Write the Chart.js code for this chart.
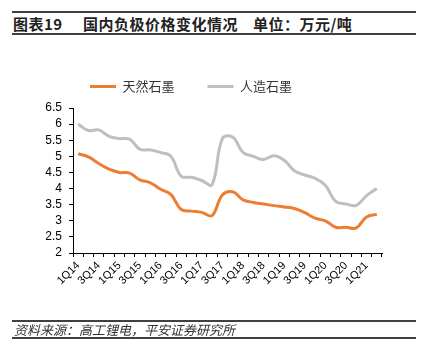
<!DOCTYPE html>
<html>
<head>
<meta charset="utf-8">
<script src="https://cdn.jsdelivr.net/npm/chart.js@4/dist/chart.umd.min.js"></script>
<style>
  body { margin: 0; background: #fff; }
  #wrap { position: relative; width: 425px; height: 364px; overflow: hidden; }
  #chart { position: absolute; left: 0; top: 0; }
  .rule { position: absolute; left: 12px; width: 404px; height: 2px; background: #404040; }
  .title { position: absolute; top: 14px; font: bold 15px "Noto Sans CJK SC", sans-serif; color: #222; letter-spacing: 0.5px; white-space: pre; line-height: 20px; }
  #source { position: absolute; left: 14px; top: 321px; font: italic 13px "Noto Sans CJK SC", sans-serif; color: #333; white-space: pre; line-height: 17px; }
</style>
</head>
<body>
<div id="wrap">
  <div class="rule" style="top:11px"></div>
  <div class="title" style="left:13px">图表19</div>
  <div class="title" style="left:83px">国内负极价格变化情况</div>
  <div class="title" style="left:253px">单位：万元/吨</div>
  <div class="rule" style="top:33px"></div>
  <canvas id="chart" width="425" height="364"></canvas>
  <div class="rule" style="top:320px"></div>
  <div id="source">资料来源：高工锂电，平安证券研究所</div>
  <div class="rule" style="top:337px"></div>
</div>
<script>
// quarters 1Q14 - 2Q21
const quarters = ["1Q14", "2Q14", "3Q14", "4Q14", "1Q15", "2Q15", "3Q15", "4Q15",
  "1Q16", "2Q16", "3Q16", "4Q16", "1Q17", "2Q17", "3Q17", "4Q17",
  "1Q18", "2Q18", "3Q18", "4Q18", "1Q19", "2Q19", "3Q19", "4Q19",
  "1Q20", "2Q20", "3Q20", "4Q20", "1Q21", "2Q21"]

// 天然石墨 (万元/吨)
const naturalGraphite = [5.08, 4.98, 4.78, 4.6, 4.5, 4.48, 4.27, 4.18,
  3.98, 3.82, 3.35, 3.3, 3.26, 3.16, 3.8, 3.9,
  3.65, 3.57, 3.52, 3.47, 3.43, 3.38, 3.25, 3.08,
  3.0, 2.8, 2.8, 2.78, 3.12, 3.2]

// 人造石墨 (万元/吨)
const artificialGraphite = [6.0, 5.8, 5.82, 5.62, 5.55, 5.53, 5.22, 5.2,
  5.12, 5.0, 4.38, 4.35, 4.25, 4.12, 5.55, 5.6,
  5.12, 5.0, 4.9, 5.02, 4.88, 4.55, 4.42, 4.32,
  4.1, 3.6, 3.52, 3.48, 3.78, 4.0]

const yMin = 2
const yMax = 6.5
const yStep = 0.5

// extra space under the legend
const legendMargin = {
  id: "legendMargin",
  beforeInit(chart) {
    const fit = chart.legend.fit
    chart.legend.fit = function () {
      fit.call(this)
      this.height += 5
    }
  },
}

const ctx = document.getElementById("chart").getContext("2d")
new Chart(ctx, {
  type: "line",
  data: {
    labels: quarters,
    datasets: [
      {
        label: "天然石墨",
        data: naturalGraphite,
        borderColor: "#ED7D31",
        backgroundColor: "#ED7D31",
        borderWidth: 3,
        pointRadius: 0,
        tension: 0.4,
      },
      {
        label: "人造石墨",
        data: artificialGraphite,
        borderColor: "#BFBFBF",
        backgroundColor: "#BFBFBF",
        borderWidth: 3,
        pointRadius: 0,
        tension: 0.4,
      },
    ],
  },
  options: {
    responsive: false,
    animation: false,
    layout: { padding: { left: 0, right: 43, top: 47, bottom: 0 } },
    plugins: {
      tooltip: { enabled: false },
      legend: {
        position: "top",
        labels: {
          boxWidth: 26,
          boxHeight: 3,
          padding: 33,
          color: "#333",
          font: { family: "'Noto Sans CJK SC', sans-serif", size: 13 },
          generateLabels: (chart) =>
            Chart.defaults.plugins.legend.labels.generateLabels(chart).map((item) => ({ ...item, lineWidth: 0 })),
        },
      },
    },
    scales: {
      x: {
        offset: true,
        grid: { display: true, offset: true, drawOnChartArea: false, drawTicks: true, tickLength: 4, color: "#000" },
        border: { color: "#000", width: 1 },
        ticks: {
          autoSkip: false,
          maxRotation: 45,
          minRotation: 45,
          color: "#000",
          padding: 2,
          font: { family: "'Liberation Sans', Arial, sans-serif", size: 11 },
          callback: (value, index) => (index % 2 === 0 ? quarters[index] : ""),
        },
        afterFit: (scale) => { scale.height = 111 },
      },
      y: {
        type: "linear",
        min: yMin,
        max: yMax,
        grid: { display: true, drawOnChartArea: false, drawTicks: true, tickLength: 4, color: "#000" },
        border: { color: "#000", width: 1 },
        ticks: {
          stepSize: yStep,
          autoSkip: false,
          color: "#000",
          padding: 7,
          font: { family: "'Liberation Sans', Arial, sans-serif", size: 12 },
          callback: (value) => String(Math.round(value * 10) / 10),
        },
        afterFit: (scale) => { scale.width = 73 },
      },
    },
  },
  plugins: [legendMargin],
})
</script>
</body>
</html>
